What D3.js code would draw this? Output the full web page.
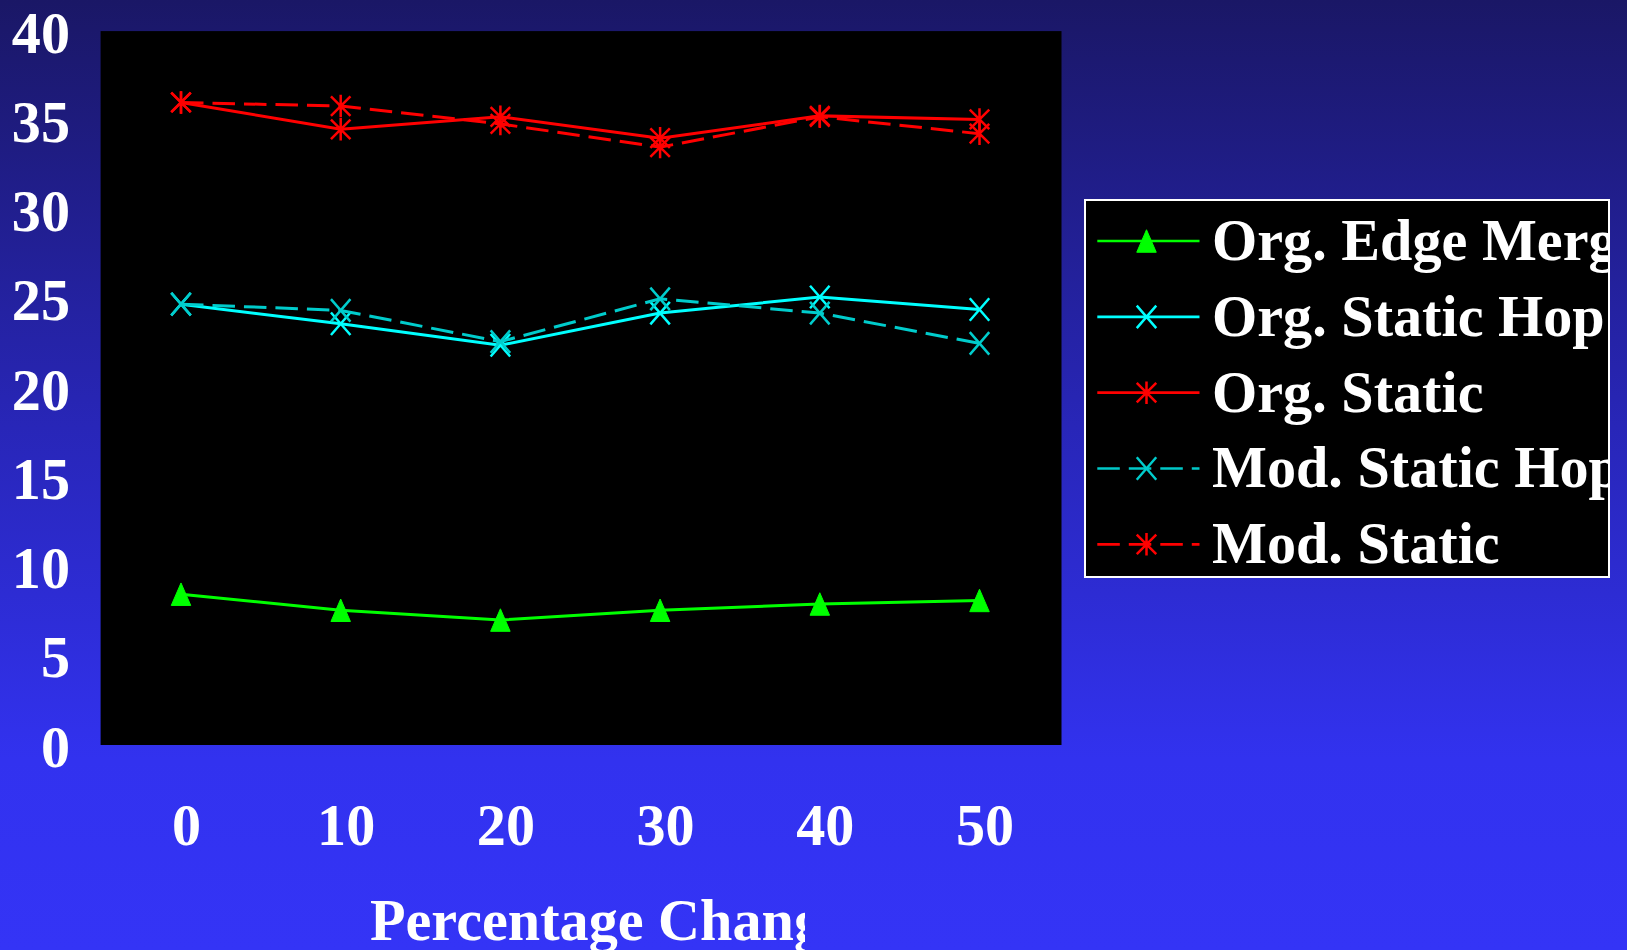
<!DOCTYPE html>
<html>
<head>
<meta charset="utf-8">
<script src="https://cdn.jsdelivr.net/npm/d3@7"></script>
<style>
  html, body { margin: 0; padding: 0; overflow: hidden; }
  svg { display: block; }
  text { font-family: "Liberation Serif", "Times New Roman", serif; font-weight: bold; fill: #ffffff; }
</style>
</head>
<body>
<svg id="chart" width="1627" height="950"></svg>
<script>
// Percentage change values on the x axis
const changes = [0, 10, 20, 30, 40, 50];

// Series values
const orgEdgeMerge = [8.45, 7.55, 7.0, 7.55, 7.9, 8.1];
const orgStaticHop = [24.7, 23.6, 22.4, 24.2, 25.1, 24.4];
const orgStatic    = [36.0, 34.5, 35.2, 34.0, 35.25, 35.05];
const modStaticHop = [24.7, 24.35, 22.6, 25.0, 24.2, 22.5];
const modStatic    = [36.0, 35.8, 34.8, 33.5, 35.2, 34.25];

// Series names as shown in the legend
const seriesNames = ["Org. Edge Merge", "Org. Static Hop", "Org. Static", "Mod. Static Hop", "Mod. Static"];

// Tick labels
const yTicks = [0, 5, 10, 15, 20, 25, 30, 35, 40];
const xTicks = changes;
const xTitle = "Percentage Change";

const W = 1627, H = 950;
const plot = { left: 100.6, right: 1061.5, top: 31.1, bottom: 745 };
const SX = 0.97; // slight horizontal squeeze of the serif text

const svg = d3.select("#chart");
const defs = svg.append("defs");

// Vertical background gradient: dark navy at the top to bright blue at the bottom
const grad = defs.append("linearGradient")
  .attr("id", "bg").attr("x1", 0).attr("y1", 0).attr("x2", 0).attr("y2", 1);
grad.append("stop").attr("offset", "0%").attr("stop-color", "#1a1766");
grad.append("stop").attr("offset", "45%").attr("stop-color", "#2826b8");
grad.append("stop").attr("offset", "80%").attr("stop-color", "#3232ef");
grad.append("stop").attr("offset", "100%").attr("stop-color", "#3434f6");
svg.append("rect").attr("width", W).attr("height", H).attr("fill", "url(#bg)");

// Scales
const x = d3.scaleLinear().domain([0, 50]).range([181, 979.5]);
const y = d3.scaleLinear().domain([0, 40]).range([plot.bottom, plot.top]);

// Plot area
svg.append("rect")
  .attr("x", plot.left).attr("y", plot.top)
  .attr("width", plot.right - plot.left).attr("height", plot.bottom - plot.top)
  .attr("fill", "#000000");

// Marker shapes
const MW = 19.5, MH = 22.5;
const markers = {
  triangle: () => `M0,${-MH / 2}L${MW / 2},${MH / 2}L${-MW / 2},${MH / 2}Z`,
  cross: () => `M${-MW / 2},${-MH / 2}L${MW / 2},${MH / 2}M${MW / 2},${-MH / 2}L${-MW / 2},${MH / 2}`,
  star: () => `M${-MW / 2},${-MH / 2 + 1.5}L${MW / 2},${MH / 2 - 1.5}M${MW / 2},${-MH / 2 + 1.5}L${-MW / 2},${MH / 2 - 1.5}M0,${-MH / 2}L0,${MH / 2}`
};

const series = [
  { name: seriesNames[0], values: orgEdgeMerge, color: "#00ff00", dash: null, marker: "triangle", fill: true },
  { name: seriesNames[1], values: orgStaticHop, color: "#00ffff", dash: null, marker: "cross", fill: false },
  { name: seriesNames[2], values: orgStatic, color: "#ff0000", dash: null, marker: "star", fill: false },
  { name: seriesNames[3], values: modStaticHop, color: "#00cccc", dash: "22.5,9", marker: "cross", fill: false },
  { name: seriesNames[4], values: modStatic, color: "#ff0000", dash: "22.5,9", marker: "star", fill: false }
];

const line = d3.line().x(d => x(d.x)).y(d => y(d.y));

const gSeries = svg.append("g");
series.forEach(s => {
  const pts = changes.map((c, i) => ({ x: c, y: s.values[i] }));
  gSeries.append("path")
    .datum(pts)
    .attr("d", line)
    .attr("fill", "none")
    .attr("stroke", s.color)
    .attr("stroke-width", 3)
    .attr("stroke-dasharray", s.dash);
  gSeries.selectAll(null)
    .data(pts)
    .enter().append("path")
    .attr("transform", d => `translate(${x(d.x)},${y(d.y)})`)
    .attr("d", markers[s.marker]())
    .attr("fill", s.fill ? s.color : "none")
    .attr("stroke", s.color)
    .attr("stroke-width", s.fill ? 1 : 2.5)
    .attr("stroke-linejoin", "round");
});

// Y axis labels
const yAxis = svg.append("g")
  .attr("transform", "translate(70,0)")
  .call(d3.axisLeft(y).tickValues(yTicks).tickSize(0).tickPadding(0));
yAxis.select(".domain").remove();
yAxis.selectAll("text")
  .attr("font-size", 60)
  .attr("font-family", null)
  .attr("fill", "#ffffff")
  .attr("x", 0)
  .attr("dy", "0.35em")
  .attr("transform", `scale(${SX},1)`);

// X axis labels
const xAxis = svg.append("g")
  .attr("transform", "translate(5,845)")
  .call(d3.axisBottom(x).tickValues(xTicks).tickSize(0).tickPadding(0));
xAxis.select(".domain").remove();
xAxis.selectAll("text")
  .attr("font-size", 60)
  .attr("font-family", null)
  .attr("fill", "#ffffff")
  .attr("y", 0)
  .attr("dy", 0)
  .attr("transform", `scale(${SX},1)`);

// X axis title, cut off at the right
defs.append("clipPath").attr("id", "titleClip")
  .append("rect").attr("x", 0).attr("y", 0).attr("width", 805).attr("height", H);
svg.append("g").attr("clip-path", "url(#titleClip)")
  .append("text")
  .attr("transform", `translate(370,940) scale(${SX},1)`)
  .attr("font-size", 60)
  .text(xTitle);

// Legend
const lg = { x: 1085, y: 200, w: 524, h: 377 };
svg.append("rect")
  .attr("x", lg.x).attr("y", lg.y).attr("width", lg.w).attr("height", lg.h)
  .attr("fill", "#000000").attr("stroke", "#ffffff").attr("stroke-width", 2);
defs.append("clipPath").attr("id", "legendClip")
  .append("rect").attr("x", lg.x + 1).attr("y", lg.y + 1).attr("width", lg.w - 2).attr("height", lg.h - 2);

const rowY = d3.scaleLinear().domain([0, 4]).range([241, 544.3]);
const legendRows = svg.append("g").attr("clip-path", "url(#legendClip)")
  .selectAll("g").data(series).enter().append("g")
  .attr("transform", (d, i) => `translate(0,${rowY(i)})`);

legendRows.append("line")
  .attr("x1", 1097.3).attr("x2", 1199.5).attr("y1", 0).attr("y2", 0)
  .attr("stroke", d => d.color === "#00cccc" ? "#00c8c8" : d.color)
  .attr("stroke-width", 2.7)
  .attr("stroke-dasharray", d => d.dash);
legendRows.append("path")
  .attr("transform", "translate(1146.5,0)")
  .attr("d", d => markers[d.marker]())
  .attr("fill", d => d.fill ? d.color : "none")
  .attr("stroke", d => d.color)
  .attr("stroke-width", d => d.fill ? 1 : 2.5)
  .attr("stroke-linejoin", "round");
legendRows.append("text")
  .attr("transform", `translate(1212,19) scale(${SX},1)`)
  .attr("font-size", 60)
  .text(d => d.name);
</script>
</body>
</html>
